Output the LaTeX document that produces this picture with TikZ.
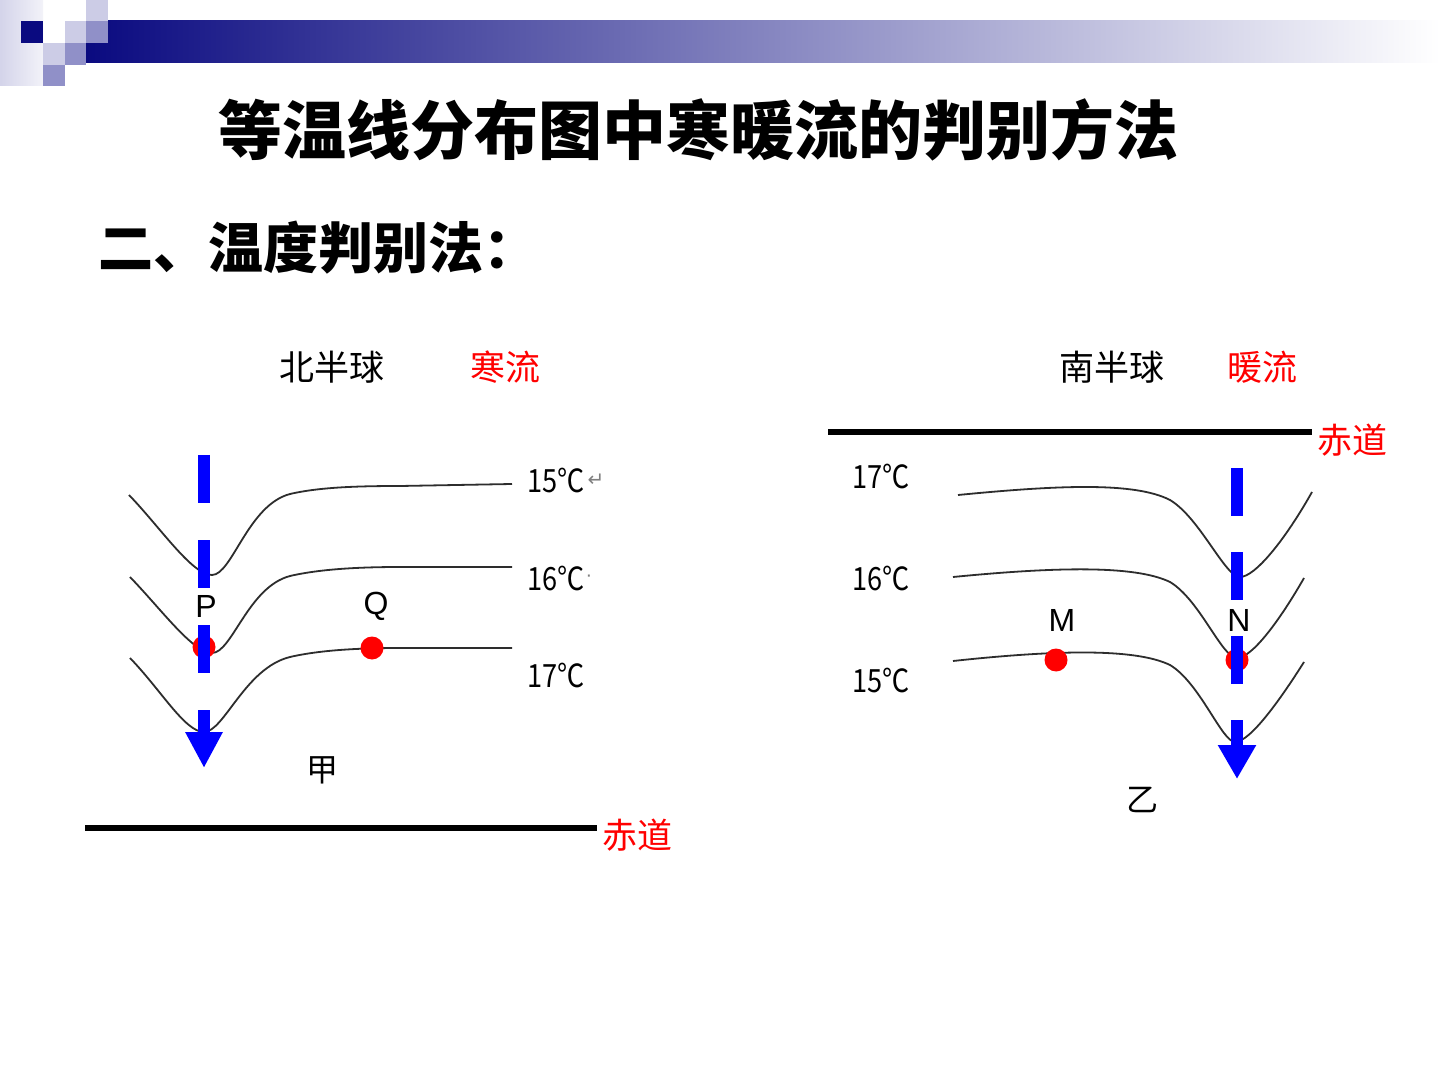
\documentclass[tikz,border=0pt]{standalone}
\usepackage{fontspec}
\setmainfont{Liberation Sans}
\newfontfamily\cjk{Noto Sans CJK SC}
\newfontfamily\tempf{Noto Sans CJK SC}[FakeStretch=0.85]
\newfontfamily\symf{DejaVu Sans}
\usetikzlibrary{arrows.meta}
\definecolor{navy}{RGB}{10,10,128}
\definecolor{lavA}{RGB}{204,204,230}
\definecolor{lavB}{RGB}{144,144,200}
\definecolor{redc}{RGB}{255,0,0}
\definecolor{bluec}{RGB}{0,0,255}
\definecolor{isoc}{RGB}{45,45,45}
\begin{document}
\begin{tikzpicture}[x=0.5pt,y=-0.5pt,
  iso/.style={draw=isoc,line width=0.9pt},
  equator/.style={line width=2.6pt,black},
  flowL/.style={draw=bluec,line width=6pt,dash pattern=on 24pt off 18.5pt,-{Triangle[length=18pt,width=17.5pt]}},
  flowR/.style={draw=bluec,line width=6pt,dash pattern=on 24pt off 18pt,-{Triangle[length=17pt,width=18pt]}},
  dot/.style={circle,fill=redc,inner sep=0pt,minimum size=11.5pt},
  lbl/.style={font=\fontsize{16pt}{18pt}\selectfont,inner sep=0pt},
  cn/.style={font=\cjk\fontsize{17.5pt}{20pt}\selectfont,inner sep=0pt,anchor=west},
  tmp/.style={font=\tempf\fontsize{16pt}{18pt}\selectfont,inner sep=0pt,anchor=west},
  retmark/.style={text=gray,inner sep=0pt,anchor=west}
]
\useasboundingbox (0,0) rectangle (1440,1080);
\fill[white] (0,0) rectangle (1440,1080);
% header decoration
\shade[left color=lavA!85, right color=lavA!25] (0,0) rectangle (43,86);
\shade[left color=navy, right color=white] (86,21) rectangle (1440,63);
\fill[navy] (21,21) rectangle (43,43);
\fill[lavA] (43,43) rectangle (65,65);
\fill[lavB] (43,65) rectangle (65,86);
\fill[lavA] (65,21) rectangle (86,43);
\fill[lavB] (65,43) rectangle (86,65);
\fill[lavA] (86,0) rectangle (108,21);
\fill[lavB] (86,21) rectangle (108,43);
% titles
\node[font=\cjk\bfseries\fontsize{32pt}{38pt}\selectfont,inner sep=0pt] (title) at (698,130) {等温线分布图中寒暖流的判别方法};
\node[font=\cjk\bfseries\fontsize{27.5pt}{32pt}\selectfont,inner sep=0pt,anchor=west] (sub) at (98,248) {二、温度判别法：};
\node[cn] (nh) at (279,367) {北半球};
\node[cn,text=redc] (cold) at (470,367) {寒流};
\node[cn] (sh) at (1059,367) {南半球};
\node[cn,text=redc] (warm) at (1227,367) {暖流};
% ---------- left diagram ----------
\draw[equator] (85,828) -- (597,828);
\node[cn,text=redc] (eqL) at (602,835) {赤道};
\draw[iso] (129,495) .. controls (160,527) and (192,575) .. (212,575) .. controls (232,575) and (248,505) .. (290,494) .. controls (320,487) and (360,486) .. (400,486) -- (512,484);
\draw[iso] (130,577) .. controls (161,609) and (193,653) .. (212,653) .. controls (232,653) and (248,587) .. (290,576) .. controls (320,569) and (360,567) .. (400,567) -- (512,567);
\draw[iso] (130,658) .. controls (161,690) and (185,732) .. (204,732) .. controls (224,732) and (245,668) .. (290,657) .. controls (320,650) and (360,648) .. (400,648) -- (512,648);
\node[tmp] (tL15) at (527,480) {15℃};
\node[retmark,font=\symf\fontsize{10pt}{11pt}\selectfont] (rL15) at ([xshift=1pt]tL15.east) {↵};
\node[tmp] (tL16) at (527,578) {16℃};
\node[retmark,font=\fontsize{10pt}{11pt}\selectfont] (rL16) at (tL16.east) {·};
\node[tmp] (tL17) at (527,675) {17℃};
\node[dot] (P) at (204,647) {};
\node[dot] (Q) at (372,648) {};
\node[lbl] (Plab) at (206,606) {P};
\node[lbl] (Qlab) at (376,606) {Q};
\coordinate (fL1) at (204,455);
\coordinate (fL2) at (204,768);
\draw[flowL] (fL1) -- (fL2);
\node[font=\cjk\fontsize{16pt}{18pt}\selectfont,inner sep=0pt] (jia) at (322,770) {甲};
% ---------- right diagram ----------
\draw[equator] (828,432) -- (1312,432);
\node[cn,text=redc] (eqR) at (1317,440) {赤道};
\draw[iso] (958,495) .. controls (1060,485) and (1135,482) .. (1170,500) .. controls (1200,518) and (1225,577) .. (1240,577) .. controls (1255,577) and (1285,540) .. (1312,492);
\draw[iso] (953,577) .. controls (1055,567) and (1135,565) .. (1170,582) .. controls (1200,600) and (1222,658) .. (1237,658) .. controls (1252,658) and (1280,620) .. (1304,578);
\draw[iso] (953,661) .. controls (1055,650) and (1135,648) .. (1170,665) .. controls (1200,683) and (1222,742) .. (1235,742) .. controls (1250,742) and (1280,700) .. (1304,662);
\node[tmp] (tR17) at (852,476) {17℃};
\node[tmp] (tR16) at (852,578) {16℃};
\node[tmp] (tR15) at (852,680) {15℃};
\node[dot] (M) at (1056,660) {};
\node[dot] (N) at (1237,660) {};
\node[lbl] (Mlab) at (1062,620) {M};
\node[lbl] (Nlab) at (1239,620) {N};
\coordinate (fR1) at (1237,468);
\coordinate (fR2) at (1237,779);
\draw[flowR] (fR1) -- (fR2);
\node[font=\cjk\fontsize{16pt}{18pt}\selectfont,inner sep=0pt] (yi) at (1142,800) {乙};
\end{tikzpicture}
\end{document}
